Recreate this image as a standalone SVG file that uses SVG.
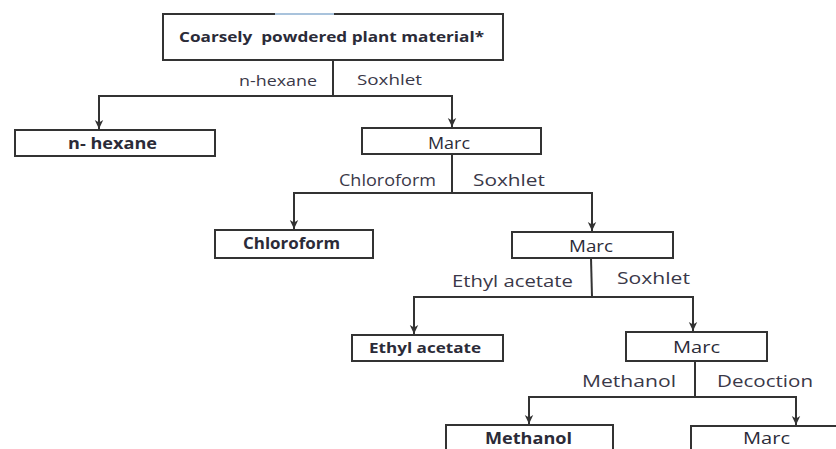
<svg xmlns="http://www.w3.org/2000/svg" width="836" height="449" viewBox="0 0 836 449">
<style>
.box{fill:#fff;stroke:#333;stroke-width:2}
.ln{fill:none;stroke:#333;stroke-width:2}
.arr{fill:none;stroke:#333;stroke-width:2;marker-end:url(#ah)}
text{font-family:"Open Sans","Liberation Sans",sans-serif;fill:#2b2b38;white-space:pre}
.b{font-weight:bold}
.l{fill:#3a3848}
</style>
<defs>
<marker id="ah" markerUnits="userSpaceOnUse" markerWidth="10" markerHeight="10" refX="9" refY="5" orient="auto">
<path d="M0,0.8 L9,5 L0,9.2 L2.5,5 z" fill="#333"/>
</marker>
</defs>
<rect width="836" height="449" fill="#fff"/>
<g id="connectors">
<path class="ln" d="M333,60 V96"/>
<path class="arr" d="M333,96 H99 V129"/>
<path class="arr" d="M333,96 H452 V127"/>
<path class="ln" d="M452,154 V193"/>
<path class="arr" d="M452,193 H294 V229"/>
<path class="arr" d="M452,193 H592 V231"/>
<path class="ln" d="M591,258 L592,297"/>
<path class="arr" d="M592,297 H414 V334"/>
<path class="arr" d="M592,297 H693 V331"/>
<path class="ln" d="M695,361 V397"/>
<path class="arr" d="M695,397 H529 V424"/>
<path class="arr" d="M695,397 H796 V425"/>
<text class="l" x="239" y="86" font-size="14.5" textLength="78" lengthAdjust="spacingAndGlyphs">n-hexane</text>
<text class="l" x="357" y="85" font-size="14.5" textLength="65" lengthAdjust="spacingAndGlyphs">Soxhlet</text>
<text class="l" x="339" y="186" font-size="15.5" textLength="97" lengthAdjust="spacingAndGlyphs">Chloroform</text>
<text class="l" x="473" y="186" font-size="15.5" textLength="72" lengthAdjust="spacingAndGlyphs">Soxhlet</text>
<text class="l" x="452" y="287" font-size="17" textLength="121" lengthAdjust="spacingAndGlyphs">Ethyl acetate</text>
<text class="l" x="617" y="284" font-size="17" textLength="73" lengthAdjust="spacingAndGlyphs">Soxhlet</text>
<text class="l" x="582" y="387" font-size="17" textLength="94" lengthAdjust="spacingAndGlyphs">Methanol</text>
<text class="l" x="717" y="387" font-size="17" textLength="96" lengthAdjust="spacingAndGlyphs">Decoction</text>
</g>
<g id="n-top">
<rect class="box" x="163" y="14" width="340" height="46"/>
<path d="M275,14 H334" stroke="#a9c3dc" stroke-width="2"/>
<text class="b" x="179" y="42" font-size="14" textLength="305" lengthAdjust="spacingAndGlyphs">Coarsely  powdered plant material*</text>
</g>
<g id="n-hexane">
<rect class="box" x="15" y="130" width="200" height="26"/>
<text class="b" x="68" y="149" font-size="16" textLength="89" lengthAdjust="spacingAndGlyphs">n- hexane</text>
</g>
<g id="marc1">
<rect class="box" x="362" y="128" width="179" height="26"/>
<text x="428" y="149" font-size="16" textLength="42" lengthAdjust="spacingAndGlyphs">Marc</text>
</g>
<g id="chloroform">
<rect class="box" x="215" y="230" width="158" height="28"/>
<text class="b" x="243" y="249" font-size="16" textLength="97" lengthAdjust="spacingAndGlyphs">Chloroform</text>
</g>
<g id="marc2">
<rect class="box" x="512" y="232" width="161" height="26"/>
<text x="569" y="252" font-size="16" textLength="44" lengthAdjust="spacingAndGlyphs">Marc</text>
</g>
<g id="ethyl-acetate">
<rect class="box" x="352" y="335" width="151" height="26"/>
<text class="b" x="369" y="353" font-size="15" textLength="112" lengthAdjust="spacingAndGlyphs">Ethyl acetate</text>
</g>
<g id="marc3">
<rect class="box" x="626" y="332" width="141" height="29"/>
<text x="673" y="353" font-size="17" textLength="47" lengthAdjust="spacingAndGlyphs">Marc</text>
</g>
<g id="methanol">
<rect class="box" x="446" y="425" width="167" height="40"/>
<text class="b" x="485" y="444" font-size="16" textLength="87" lengthAdjust="spacingAndGlyphs">Methanol</text>
</g>
<g id="marc4">
<rect class="box" x="691" y="426" width="170" height="40"/>
<text x="743" y="444" font-size="17" textLength="47" lengthAdjust="spacingAndGlyphs">Marc</text>
</g>
</svg>
